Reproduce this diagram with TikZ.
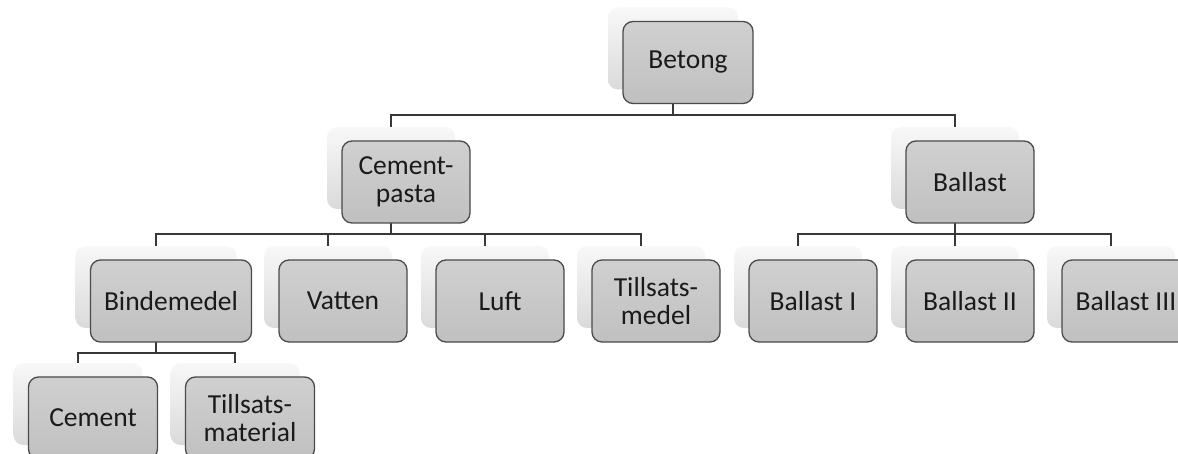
\documentclass[tikz,border=0pt]{standalone}
\usepackage{fontspec}
\setmainfont{Carlito}
\definecolor{boxtop}{HTML}{D0D0D0}
\definecolor{boxbot}{HTML}{C0C0C0}
\definecolor{boxline}{HTML}{4A4A4A}
\definecolor{txt}{HTML}{1A1A1A}
\definecolor{shtop}{HTML}{F8F8F8}
\definecolor{shbot}{HTML}{DADADA}
\definecolor{lineclr}{HTML}{383838}
\pgfdeclarelayer{sh}
\pgfdeclarelayer{ln}
\pgfsetlayers{sh,ln,main}
\tikzset{
  mainbox/.style={draw=boxline, line width=1.3pt, rounded corners=10pt,
    top color=boxtop, bottom color=boxbot, minimum height=82pt,
    text=txt, align=center, inner sep=0pt,
    font=\fontsize{27.5}{28.5}\selectfont},
  shadowbox/.style={rounded corners=10pt, top color=shtop, bottom color=shbot,
    minimum height=82pt, inner sep=0pt},
  conn/.style={draw=lineclr, line width=1.3pt}
}
% name, x, y, width, text
\newcommand\orgbox[5]{%
  \begin{pgfonlayer}{sh}
    \node[shadowbox, minimum width=#4pt] (#1S) at (#2-15,#3-14) {};
  \end{pgfonlayer}
  \node[mainbox, minimum width=#4pt] (#1) at (#2,#3) {#5};
}
\begin{document}
\begin{tikzpicture}[x=1pt,y=-1pt]
  \useasboundingbox (0,0) rectangle (1178,454);
  \orgbox{bet}{688}{62.5}{130}{Betong}
  \orgbox{cp}{406}{182}{128}{Cement-\\pasta}
  \orgbox{ball}{970}{182}{128}{Ballast}
  \orgbox{bind}{171}{301}{161}{Bindemedel}
  \orgbox{vat}{343}{301}{128}{Vatten}
  \orgbox{luft}{500}{301}{128}{Luft}
  \orgbox{tm}{656}{301}{128}{Tillsats-\\medel}
  \orgbox{bI}{813}{301}{128}{Ballast I}
  \orgbox{bII}{970}{301}{128}{Ballast II}
  \orgbox{bIII}{1126}{301}{128}{Ballast III}
  \orgbox{cem}{93}{418}{129}{Cement}
  \orgbox{tmat}{250}{418}{129}{Tillsats-\\material}
  \coordinate (bus1) at (0,115);
  \coordinate (bus2) at (0,234);
  \coordinate (bus3) at (0,353);
  \begin{pgfonlayer}{ln}
    \draw[conn] (betS.south) -- (betS.south |- bus1);
    \draw[conn] (cpS.north) -- (cpS.north |- bus1) -- (ballS.north |- bus1) -- (ballS.north);
    \draw[conn] (cpS.south) -- (cpS.south |- bus2);
    \draw[conn] (bindS.north) -- (bindS.north |- bus2) -- (tmS.north |- bus2) -- (tmS.north);
    \draw[conn] (vatS.north) -- (vatS.north |- bus2);
    \draw[conn] (luftS.north) -- (luftS.north |- bus2);
    \draw[conn] (ballS.south) -- (ballS.south |- bus2);
    \draw[conn] (bIS.north) -- (bIS.north |- bus2) -- (bIIIS.north |- bus2) -- (bIIIS.north);
    \draw[conn] (bIIS.north) -- (bIIS.north |- bus2);
    \draw[conn] (bindS.south) -- (bindS.south |- bus3);
    \draw[conn] (cemS.north) -- (cemS.north |- bus3) -- (tmatS.north |- bus3) -- (tmatS.north);
  \end{pgfonlayer}
\end{tikzpicture}
\end{document}
